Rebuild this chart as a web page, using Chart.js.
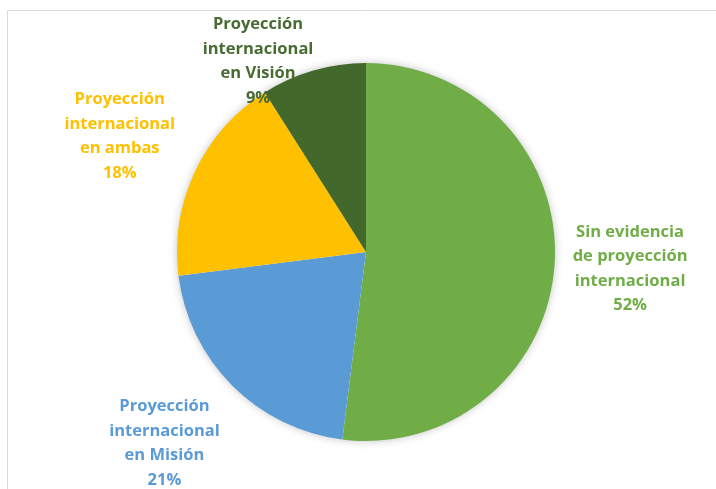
<!DOCTYPE html>
<html>
<head>
<meta charset="utf-8">
<script src="https://cdn.jsdelivr.net/npm/chart.js@4.4.0/dist/chart.umd.min.js"></script>
<style>
  html, body { margin: 0; padding: 0; background: #ffffff; }
  #wrap { width: 716px; height: 489px; position: relative; }
</style>
</head>
<body>
<div id="wrap"><canvas id="c" width="716" height="489"></canvas></div>
<script>
const categories = [
  ["Sin evidencia", "de proyección", "internacional"],
  ["Proyección", "internacional", "en Misión"],
  ["Proyección", "internacional", "en ambas"],
  ["Proyección", "internacional", "en Visión"]
];
const values = [52, 21, 18, 9];
const percentLabels = ["52%", "21%", "18%", "9%"];
const colors = ["#70AD47", "#5B9BD5", "#FFC000", "#43682B"];
const labelColors = ["#70AD47", "#5B9BD5", "#FFC000", "#476B31"];

// label placement relative to slice geometry: radial factor and angle tweak (degrees)
const labelRadial = [1.40, 1.47, 1.44, 1.16];
const labelAngleTweak = [0, 1.5, 0, -13.3];

const framePlugin = {
  id: 'frame',
  beforeDraw(chart) {
    const ctx = chart.ctx;
    ctx.save();
    ctx.strokeStyle = '#d9d9d9';
    ctx.lineWidth = 1;
    ctx.beginPath();
    ctx.moveTo(7.5, 489);
    ctx.lineTo(7.5, 10.5);
    ctx.lineTo(716, 10.5);
    ctx.stroke();
    ctx.restore();
  },
  beforeDatasetsDraw(chart) {
    const meta = chart.getDatasetMeta(0);
    const a = meta.data[0];
    if (!a) return;
    const ctx = chart.ctx;
    ctx.save();
    ctx.shadowColor = 'rgba(0,0,0,0.28)';
    ctx.shadowBlur = 10;
    ctx.fillStyle = '#ffffff';
    ctx.beginPath();
    ctx.arc(a.x, a.y, a.outerRadius - 1, 0, Math.PI * 2);
    ctx.fill();
    ctx.restore();
  }
};

const labelPlugin = {
  id: 'sliceLabels',
  afterDatasetsDraw(chart) {
    const ctx = chart.ctx;
    const meta = chart.getDatasetMeta(0);
    ctx.save();
    ctx.font = 'bold 16.5px "Open Sans", "DejaVu Sans", sans-serif';
    ctx.textAlign = 'center';
    ctx.textBaseline = 'middle';
    meta.data.forEach((arc, i) => {
      const mid = (arc.startAngle + arc.endAngle) / 2 + labelAngleTweak[i] * Math.PI / 180;
      const r = arc.outerRadius * labelRadial[i];
      const cx = arc.x + Math.cos(mid) * r;
      const cy = arc.y + Math.sin(mid) * r;
      const lines = categories[i].concat([percentLabels[i]]);
      const lh = 24.5;
      const top = cy - (lines.length - 1) * lh / 2;
      ctx.fillStyle = labelColors[i];
      lines.forEach((t, k) => ctx.fillText(t, cx, top + k * lh));
    });
    ctx.restore();
  }
};

new Chart(document.getElementById('c'), {
  type: 'pie',
  data: {
    labels: categories.map(c => c.join(' ')),
    datasets: [{
      data: values,
      backgroundColor: colors,
      borderWidth: 0
    }]
  },
  options: {
    responsive: false,
    animation: false,
    rotation: 0,
    layout: { padding: { top: 63, bottom: 48, left: 100, right: 84 } },
    plugins: {
      legend: { display: false },
      tooltip: { enabled: false }
    }
  },
  plugins: [framePlugin, labelPlugin]
});
</script>
</body>
</html>
